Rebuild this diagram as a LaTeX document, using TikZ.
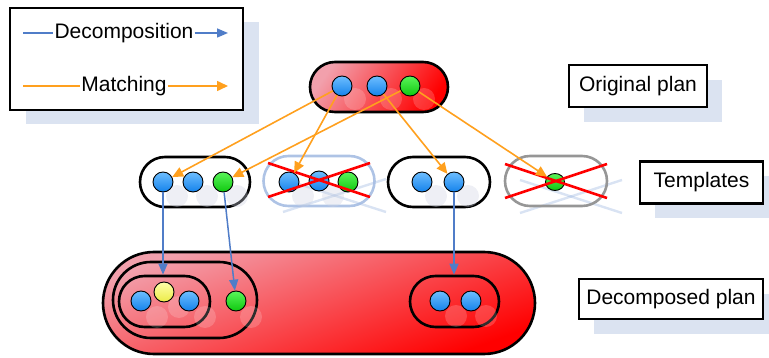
\documentclass[tikz,border=0pt]{standalone}
\usepackage{fontspec}
\setmainfont{Liberation Sans}
\usetikzlibrary{arrows.meta,shadows,shapes.geometric}
\definecolor{shadowc}{RGB}{219,227,241}
\definecolor{blueA}{RGB}{110,190,255}
\definecolor{blueB}{RGB}{20,130,235}
\definecolor{greenA}{RGB}{90,245,90}
\definecolor{greenB}{RGB}{15,200,15}
\definecolor{yellowA}{RGB}{255,255,170}
\definecolor{yellowB}{RGB}{235,235,70}
\definecolor{orangec}{RGB}{255,160,30}
\definecolor{decc}{RGB}{80,125,200}
\definecolor{pinkc}{RGB}{242,160,172}
\definecolor{midred}{RGB}{250,60,70}
\definecolor{fadeblue}{RGB}{160,185,225}
\definecolor{ghostc}{RGB}{205,210,225}
\definecolor{grayc}{RGB}{150,150,150}
\begin{document}
\begin{tikzpicture}[x=1pt,y=-1pt,
 lbl/.style={draw=black, line width=2.6pt, fill=white, minimum height=42pt, inner sep=0pt,
   font=\fontsize{21}{25}\selectfont,
   drop shadow={shadow xshift=15pt, shadow yshift=-15pt, fill=shadowc, opacity=1}},
 legtext/.style={inner xsep=1pt, inner ysep=2pt, font=\fontsize{21}{25}\selectfont},
 pill/.style={draw=black, line width=2.6pt, inner sep=0pt, minimum height=50pt, rounded corners=25pt},
 redpill/.style={pill, top color=pinkc, middle color=midred, bottom color=red, shading angle=55},
 ball/.style={circle, draw=black, line width=0.9pt, minimum size=20pt, inner sep=0pt},
 bb/.style={ball, top color=blueA, bottom color=blueB},
 gb/.style={ball, top color=greenA, bottom color=greenB},
 yb/.style={ball, top color=yellowA, bottom color=yellowB},
 ghost/.style={circle, fill=ghostc, opacity=0.35, minimum size=22pt, inner sep=0pt},
 rghost/.style={circle, fill=white, opacity=0.18, minimum size=22pt, inner sep=0pt},
 match/.style={draw=orangec, line width=1.6pt, -{Triangle[length=11pt,width=10pt]}},
 decline/.style={draw=decc, line width=1.5pt},
 decomp/.style={decline, -{Triangle[length=11pt,width=9pt]}},
 matchline/.style={draw=orangec, line width=1.5pt},
 crossline/.style={draw=red, line width=2.6pt},
 crossghost/.style={draw=fadeblue, line width=2.4pt, opacity=0.4},
]
\useasboundingbox (0,0) rectangle (769,358);

% ---------- legend ----------
\node[draw=black, line width=2.8pt, fill=white, minimum width=233pt, minimum height=102pt,
  drop shadow={shadow xshift=16pt, shadow yshift=-14pt, fill=shadowc, opacity=1}] (legend) at (126.5,59) {};
\node[legtext] (dt) at (124,33) {Decomposition};
\node[legtext] (mt) at (124,86) {Matching};
\coordinate (dl0) at (23,33);
\coordinate (dl1) at (228,33);
\coordinate (ml0) at (23,86);
\coordinate (ml1) at (228,86);
\draw[decline] (dl0) -- (dt);
\draw[decomp] (dt) -- (dl1);
\draw[matchline] (ml0) -- (mt);
\draw[match] (mt) -- (ml1);

% ---------- labels ----------
\node[lbl, minimum width=138pt] (lop) at (638,86) {Original plan};
\node[lbl, minimum width=123pt] (ltp) at (701.5,182.5) {Templates};
\node[lbl, minimum width=184pt, minimum height=40pt] (ldp) at (671,299) {Decomposed plan};

% ---------- original plan ----------
\node[redpill, minimum width=138pt] (op) at (379,87) {};
\node[rghost] at (355,99) {};
\node[rghost] at (391,99) {};
\node[rghost] at (424,99) {};
\node[bb] (o1) at (342,86) {};
\node[bb] (o2) at (377,86) {};
\node[gb] (og) at (410,86) {};

% ---------- templates ----------
% T1
\node[pill, minimum width=110pt] (t1) at (195,182) {};
\node[ghost] at (177,196) {};
\node[ghost] at (207,196) {};
\node[ghost] at (237,196) {};
\node[bb] (t1a) at (163,182) {};
\node[bb] (t1b) at (193,182) {};
\node[gb] (t1c) at (223,182) {};
% T2 (rejected)
\draw[crossghost] (283,179) -- (386,212);
\draw[crossghost] (283,212) -- (386,179);
\node[pill, draw=fadeblue, draw opacity=0.85, minimum width=111pt] (t2) at (319,181) {};
\node[ghost] at (303,196) {};
\node[ghost] at (333,196) {};
\node[bb] (t2a) at (289,182) {};
\node[bb] (t2b) at (319,181) {};
\node[gb] (t2c) at (348,182) {};
\coordinate (x2a) at (268,163);
\coordinate (x2b) at (370,197);
\coordinate (x2c) at (268,197);
\coordinate (x2d) at (370,163);
\draw[crossline] (x2a) -- (x2b);
\draw[crossline] (x2c) -- (x2d);
% T3
\node[pill, minimum width=102pt] (t3) at (439,182) {};
\node[ghost] at (436,196) {};
\node[ghost] at (468,196) {};
\node[bb] (t3a) at (422,182) {};
\node[bb] (t3b) at (454,182) {};
% T4 (rejected)
\draw[crossghost] (520,180) -- (622,213);
\draw[crossghost] (520,213) -- (622,180);
\node[pill, draw=grayc, minimum width=102pt] (t4) at (556,181) {};
\node[ellipse, draw=black, line width=0.9pt, top color=greenA, bottom color=greenB,
  minimum width=19pt, minimum height=17pt, inner sep=0pt] (t4g) at (555,182) {};
\coordinate (x4a) at (505,164);
\coordinate (x4b) at (607,198);
\coordinate (x4c) at (505,198);
\coordinate (x4d) at (607,164);
\draw[crossline] (x4a) -- (x4b);
\draw[crossline] (x4c) -- (x4d);

% ---------- decomposed plan ----------
\node[redpill, minimum width=432pt, minimum height=102pt, rounded corners=51pt, shading angle=20] (dp) at (319,303) {};
\node[pill, minimum width=144pt, minimum height=76pt, rounded corners=38pt] (da) at (185,300) {};
\node[pill, minimum width=91pt, minimum height=51pt, rounded corners=25.5pt] (db) at (164.5,301.5) {};
\node[pill, minimum width=89pt, minimum height=51pt, rounded corners=25.5pt] (dr) at (454.5,301.5) {};
\node[rghost] at (157,317) {};
\node[rghost] at (179,307) {};
\node[rghost] at (205,317) {};
\node[rghost] at (251,317) {};
\node[rghost] at (456,316) {};
\node[rghost] at (486,316) {};
\node[bb] (d1) at (141,301) {};
\node[yb] (dy) at (164,292) {};
\node[bb] (d2) at (189,301) {};
\node[gb] (dg) at (236,301) {};
\node[bb] (dr1) at (440,301) {};
\node[bb] (dr2) at (471,301) {};

% ---------- matching arrows ----------
\draw[match] (o1) -- (t1a);
\draw[match] (og) -- (t1c);
\draw[match] (o1) -- (t2a);
\draw[match] (o2) -- (t3b);
\draw[match] (og) -- (t4g);

% ---------- decomposition arrows ----------
\draw[decomp] (t1a) -- (t1a |- db.north);
\draw[decomp] (t1c) -- (dg);
\draw[decomp] (t3b) -- (t3b |- dr.north);
\end{tikzpicture}
\end{document}
